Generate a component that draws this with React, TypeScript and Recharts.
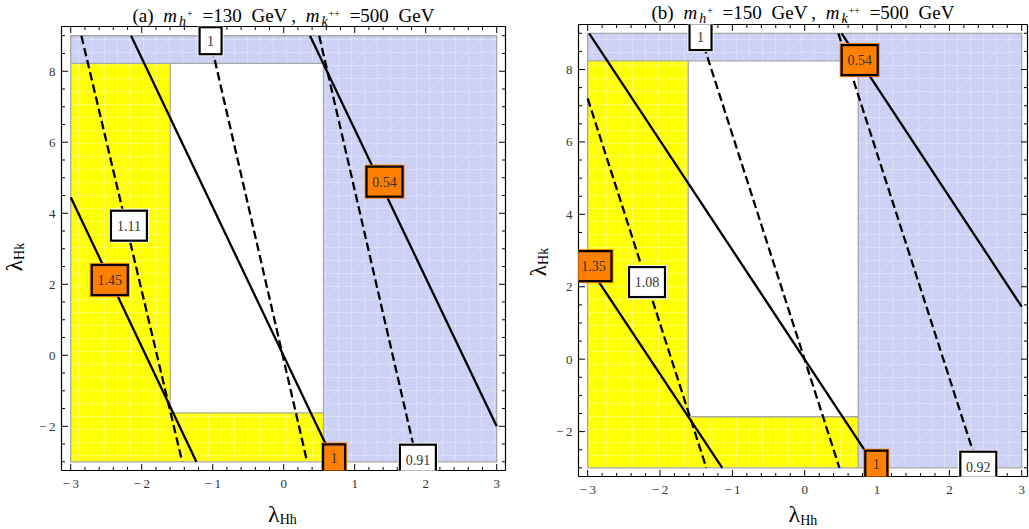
import React from 'react';
import { ComposedChart, XAxis, YAxis, Line, ReferenceArea, ReferenceLine, Scatter } from 'recharts';

// ---------- axis ticks ----------
const X_MAJOR = [-3, -2, -1, 0, 1, 2, 3];
const X_TICKS = [-3, -2.8, -2.6, -2.4, -2.2, -2, -1.8, -1.6, -1.4, -1.2, -1, -0.8, -0.6, -0.4, -0.2, 0, 0.2, 0.4, 0.6, 0.8, 1, 1.2, 1.4, 1.6, 1.8, 2, 2.2, 2.4, 2.6, 2.8, 3];
const Y_MAJOR = [-2, 0, 2, 4, 6, 8];
const Y_TICKS = [-3, -2.5, -2, -1.5, -1, -0.5, 0, 0.5, 1, 1.5, 2, 2.5, 3, 3.5, 4, 4.5, 5, 5.5, 6, 6.5, 7, 7.5, 8, 8.5, 9];

// ---------- panel (a) ----------
const A_XDOMAIN = [-3.13, 3.124];
const A_YDOMAIN = [-3.245, 9.26];
const A_XCUT = [-1.6, 0.56]; // yellow right edge, blue left edge
const A_YCUT = [-1.62, 8.22]; // yellow strip top, blue strip bottom
const A_SOLID = [
  [{ x: -3, y: 4.45 }, { x: -1.23, y: -3 }],
  [{ x: -2.15, y: 9 }, { x: 0.71, y: -3 }],
  [{ x: 0.37, y: 9 }, { x: 3, y: -2.0 }],
];
const A_DASHED = [
  [{ x: -2.85, y: 9 }, { x: -1.43, y: -3 }],
  [{ x: -1.05, y: 9 }, { x: 0.33, y: -3 }],
  [{ x: 0.5, y: 9 }, { x: 1.88, y: -3 }],
];
const A_LABELS = [
  { x: -1.03, y: 8.86, text: '1', kind: 'w' },
  { x: -2.18, y: 3.65, text: '1.11', kind: 'w' },
  { x: -2.45, y: 2.12, text: '1.45', kind: 'o' },
  { x: 1.42, y: 4.89, text: '0.54', kind: 'o' },
  { x: 0.71, y: -2.89, text: '1', kind: 'o' },
  { x: 1.89, y: -2.94, text: '0.91', kind: 'w' },
];

// ---------- panel (b) ----------
const B_XDOMAIN = [-3.127, 3.08];
const B_YDOMAIN = [-3.24, 9.243];
const B_XCUT = [-1.61, 0.74];
const B_YCUT = [-1.59, 8.24];
const B_SOLID = [
  [{ x: -2.98, y: 9 }, { x: 0.99, y: -3 }],
  [{ x: 0.51, y: 9 }, { x: 3, y: 1.45 }],
  [{ x: -3, y: 2.6 }, { x: -1.14, y: -3 }],
];
const B_DASHED = [
  [{ x: -3, y: 7.2 }, { x: -1.36, y: -3 }],
  [{ x: -1.45, y: 9 }, { x: 0.48, y: -3 }],
  [{ x: 0.465, y: 9 }, { x: 2.4, y: -3 }],
];
const B_LABELS = [
  { x: -1.44, y: 8.91, text: '1', kind: 'w' },
  { x: 0.76, y: 8.26, text: '0.54', kind: 'o' },
  { x: -2.92, y: 2.57, text: '1.35', kind: 'o' },
  { x: -2.18, y: 2.13, text: '1.08', kind: 'w' },
  { x: 0.99, y: -2.9, text: '1', kind: 'o' },
  { x: 2.4, y: -2.97, text: '0.92', kind: 'w' },
];

const SERIF = '"Liberation Serif", "DejaVu Serif", serif';
const YELLOW = '#ffff00';
const BLUE = '#ccd0f5';
const ORANGE = '#ff8000';
const EDGE = '#a8a8a8';

const fmt = (v: number) => (v < 0 ? '\u2212\u2009' + Math.abs(v) : String(v));

const BottomTick = (p: any) => {
  const { x, y, payload } = p;
  const major = X_MAJOR.includes(payload.value);
  return (
    <g>
      <line x1={x} x2={x} y1={y} y2={y - (major ? 6.5 : 3.5)} stroke="#000" strokeWidth={1} />
      {major && (
        <text x={x} y={y + 17.5} textAnchor="middle" fontFamily={SERIF} fontSize={13} fill="#333">
          {fmt(payload.value)}
        </text>
      )}
    </g>
  );
};
const TopTick = (p: any) => {
  const { x, y, payload } = p;
  const major = X_MAJOR.includes(payload.value);
  return <line x1={x} x2={x} y1={y} y2={y + (major ? 6.5 : 3.5)} stroke="#000" strokeWidth={1} />;
};
const LeftTick = (p: any) => {
  const { x, y, payload } = p;
  const major = Y_MAJOR.includes(payload.value);
  return (
    <g>
      <line x1={x} x2={x + (major ? 6.5 : 3.5)} y1={y} y2={y} stroke="#000" strokeWidth={1} />
      {major && (
        <text x={x - 6} y={y + 4.5} textAnchor="end" fontFamily={SERIF} fontSize={13} fill="#333">
          {fmt(payload.value)}
        </text>
      )}
    </g>
  );
};
const RightTick = (p: any) => {
  const { x, y, payload } = p;
  const major = Y_MAJOR.includes(payload.value);
  return <line x1={x} x2={x - (major ? 6.5 : 3.5)} y1={y} y2={y} stroke="#000" strokeWidth={1} />;
};

const LabelBox = (p: any) => {
  const { cx, cy, payload } = p;
  const w = payload.text.length > 1 ? 36 : 22;
  const h = payload.text.length > 1 ? 30 : 27;
  const fill = payload.kind === 'o' ? ORANGE : '#ffffff';
  return (
    <g>
      <rect x={cx - w / 2 - 2} y={cy - h / 2 - 2} width={w + 4} height={h + 4} fill={fill} />
      <rect x={cx - w / 2} y={cy - h / 2} width={w} height={h} fill={fill} stroke="#000" strokeWidth={2.2} />
      <text x={cx} y={cy + 5} textAnchor="middle" fontFamily={SERIF} fontSize={14} fill="#333">
        {payload.text}
      </text>
    </g>
  );
};

type Margin = { top: number; left: number; right: number; bottom: number };
type PanelProps = {
  width: number;
  height: number;
  plot: Margin; // distance of the frame from each edge of the chart box
  xDomain: number[];
  yDomain: number[];
  xCut: number[];
  yCut: number[];
  solid: { x: number; y: number }[][];
  dashed: { x: number; y: number }[][];
  labels: { x: number; y: number; text: string; kind: string }[];
};

const FRAME = { stroke: '#000', strokeWidth: 1.2 };

const Panel = ({ width, height, plot, xDomain, yDomain, xCut, yCut, solid, dashed, labels }: PanelProps) => {
  const ax = { xAxisId: 'b', yAxisId: 'l' } as const;
  const m1 = { top: plot.top - 1, left: plot.left - 1, right: plot.right - 1, bottom: plot.bottom - 1 };
  return (
    <div style={{ position: 'relative', width, height }}>
      <div style={{ position: 'absolute', left: 0, top: 0 }}>
        <ComposedChart width={width} height={height} margin={m1}>
          <XAxis xAxisId="b" type="number" dataKey="x" domain={xDomain} ticks={X_TICKS} interval={0}
            tickSize={0} tickMargin={0} tickLine={false} tick={BottomTick} height={1} allowDataOverflow
            axisLine={FRAME} stroke="#000" />
          <XAxis xAxisId="t" orientation="top" type="number" dataKey="x" domain={xDomain} ticks={X_TICKS} interval={0}
            tickSize={0} tickMargin={0} tickLine={false} tick={TopTick} height={1} allowDataOverflow
            axisLine={FRAME} stroke="#000" />
          <YAxis yAxisId="l" type="number" dataKey="y" domain={yDomain} ticks={Y_TICKS} interval={0}
            tickSize={0} tickMargin={0} tickLine={false} tick={LeftTick} width={1} allowDataOverflow
            axisLine={FRAME} stroke="#000" />
          <YAxis yAxisId="r" orientation="right" type="number" dataKey="y" domain={yDomain} ticks={Y_TICKS} interval={0}
            tickSize={0} tickMargin={0} tickLine={false} tick={RightTick} width={1} allowDataOverflow
            axisLine={FRAME} stroke="#000" />

          {/* yellow regions */}
          <ReferenceArea {...ax} x1={-3} x2={xCut[0]} y1={-3} y2={9} fill="url(#meshY)" fillOpacity={1} stroke="none" />
          <ReferenceArea {...ax} x1={-3} x2={3} y1={-3} y2={yCut[0]} fill="url(#meshY)" fillOpacity={1} stroke="none" />
          {/* blue regions */}
          <ReferenceArea {...ax} x1={xCut[1]} x2={3} y1={-3} y2={9} fill="url(#meshB)" fillOpacity={1} stroke="none" />
          <ReferenceArea {...ax} x1={-3} x2={3} y1={yCut[1]} y2={9} fill="url(#meshB)" fillOpacity={1} stroke="none" />
          {/* region edges */}
          <ReferenceArea {...ax} x1={-3} x2={3} y1={-3} y2={9} fill="none" stroke={EDGE} strokeWidth={1.3} />
          <ReferenceLine {...ax} segment={[{ x: -3, y: yCut[1] }, { x: xCut[1], y: yCut[1] }]} stroke={EDGE} strokeWidth={1.3} />
          <ReferenceLine {...ax} segment={[{ x: xCut[1], y: -3 }, { x: xCut[1], y: yCut[1] }]} stroke={EDGE} strokeWidth={1.3} />
          <ReferenceLine {...ax} segment={[{ x: xCut[0], y: yCut[0] }, { x: xCut[0], y: yCut[1] }]} stroke={EDGE} strokeWidth={1.3} />
          <ReferenceLine {...ax} segment={[{ x: xCut[0], y: yCut[0] }, { x: xCut[1], y: yCut[0] }]} stroke={EDGE} strokeWidth={1.3} />

          {solid.map((d, i) => (
            <Line key={'s' + i} {...ax} data={d} dataKey="y" type="linear" stroke="#000" strokeWidth={2.3}
              dot={false} activeDot={false} isAnimationActive={false} />
          ))}
          {dashed.map((d, i) => (
            <Line key={'d' + i} {...ax} data={d} dataKey="y" type="linear" stroke="#000" strokeWidth={2.3}
              strokeDasharray="8.5 4" dot={false} activeDot={false} isAnimationActive={false} />
          ))}
        </ComposedChart>
      </div>
      {/* contour labels, drawn above the frame */}
      <div style={{ position: 'absolute', left: 0, top: 0 }}>
        <ComposedChart width={width} height={height} margin={plot}>
          <XAxis type="number" dataKey="x" domain={xDomain} hide allowDataOverflow />
          <YAxis type="number" dataKey="y" domain={yDomain} hide allowDataOverflow />
          <Scatter data={labels} dataKey="y" shape={LabelBox} isAnimationActive={false} />
        </ComposedChart>
      </div>
    </div>
  );
};

const Title = ({ cx, y, tag, mh, mk }: { cx: number; y: number; tag: string; mh: string; mk: string }) => (
  <text x={cx} y={y} textAnchor="middle" fontFamily={SERIF} fontSize={19} fill="#000" wordSpacing={5}>
    <tspan>{'(' + tag + ') '}</tspan>
    <tspan fontStyle="italic">m</tspan>
    <tspan fontStyle="italic" fontSize={14} dy={4} dx={2}>h</tspan>
    <tspan fontSize={10} dy={-9} dx={1}>+</tspan>
    <tspan dy={5}>{' =' + mh + ' GeV\u2009,'}</tspan>
    <tspan fontStyle="italic">{' m'}</tspan>
    <tspan fontStyle="italic" fontSize={14} dy={4} dx={2}>k</tspan>
    <tspan fontSize={10} dy={-9} dx={1}>++</tspan>
    <tspan dy={5}>{' =' + mk + ' GeV'}</tspan>
  </text>
);

export default function App() {
  return (
    <div style={{ position: 'absolute', left: 0, top: 0, width: 1029, height: 529, background: '#fff', overflow: 'hidden' }}>
      <svg width={0} height={0} style={{ position: 'absolute' }}>
        <defs>
          <pattern id="meshY" patternUnits="userSpaceOnUse" width={13} height={13}>
            <rect width={13} height={13} fill={YELLOW} />
            <path d="M0.5 0 V13 M0 0.5 H13" stroke="#fff" strokeOpacity={0.4} strokeWidth={0.8} />
            <path d="M0 13 L13 0" stroke="#fff" strokeOpacity={0.3} strokeWidth={0.8} />
          </pattern>
          <pattern id="meshB" patternUnits="userSpaceOnUse" width={13} height={13}>
            <rect width={13} height={13} fill={BLUE} />
            <path d="M0.5 0 V13 M0 0.5 H13" stroke="#fff" strokeOpacity={0.35} strokeWidth={0.8} />
            <path d="M0 13 L13 0" stroke="#fff" strokeOpacity={0.25} strokeWidth={0.8} />
          </pattern>
        </defs>
      </svg>
      <div style={{ position: 'absolute', left: 0, top: 0 }}>
        <Panel width={515} height={529} plot={{ top: 26.5, left: 61.5, right: 9.5, bottom: 58.5 }}
          xDomain={A_XDOMAIN} yDomain={A_YDOMAIN} xCut={A_XCUT} yCut={A_YCUT}
          solid={A_SOLID} dashed={A_DASHED} labels={A_LABELS} />
      </div>
      <div style={{ position: 'absolute', left: 515, top: 0 }}>
        <Panel width={514} height={529} plot={{ top: 24.5, left: 63.5, right: 1.5, bottom: 52.5 }}
          xDomain={B_XDOMAIN} yDomain={B_YDOMAIN} xCut={B_XCUT} yCut={B_YCUT}
          solid={B_SOLID} dashed={B_DASHED} labels={B_LABELS} />
      </div>
      <svg width={1029} height={529} style={{ position: 'absolute', left: 0, top: 0, pointerEvents: 'none' }}>
        <Title cx={283.5} y={21.7} tag="a" mh="130" mk="500" />
        <Title cx={803} y={19.3} tag="b" mh="150" mk="500" />
        <text x={282.5} y={522} textAnchor="middle" fontFamily={SERIF} fill="#000">
          <tspan fontSize={24}>λ</tspan>
          <tspan fontSize={14} dy={2}>Hh</tspan>
        </text>
        <text x={803} y={522} textAnchor="middle" fontFamily={SERIF} fill="#000">
          <tspan fontSize={24}>λ</tspan>
          <tspan fontSize={14} dy={3}>Hh</tspan>
        </text>
        <text transform="translate(21.7,257) rotate(-90)" textAnchor="middle" fontFamily={SERIF} fill="#000">
          <tspan fontSize={23}>λ</tspan>
          <tspan fontSize={14} dy={2}>Hk</tspan>
        </text>
        <text transform="translate(546,262) rotate(-90)" textAnchor="middle" fontFamily={SERIF} fill="#000">
          <tspan fontSize={23}>λ</tspan>
          <tspan fontSize={14} dy={2}>Hk</tspan>
        </text>
      </svg>
    </div>
  );
}
